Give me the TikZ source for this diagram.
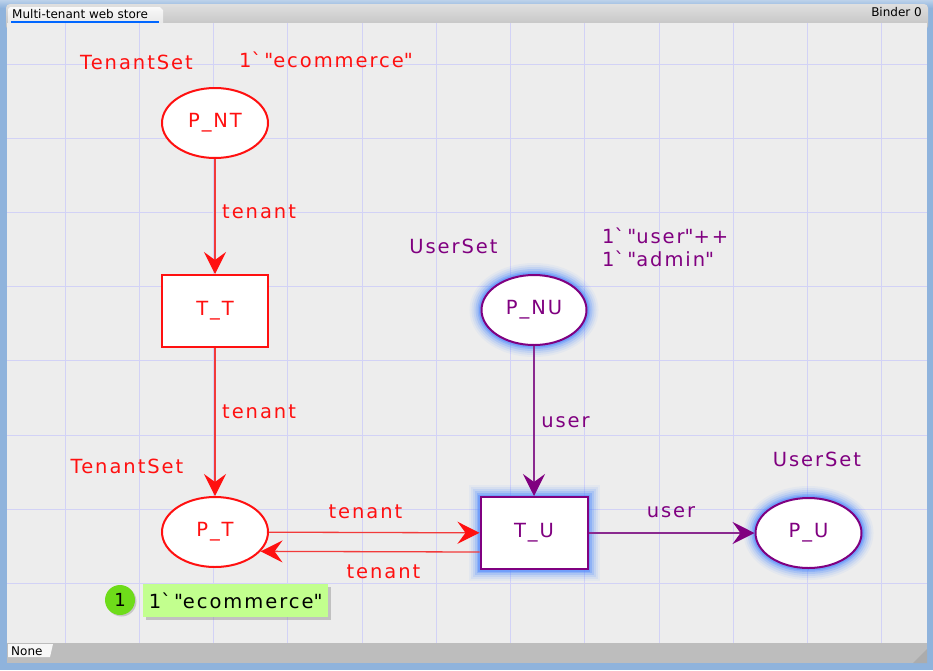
\documentclass[tikz,border=0pt]{standalone}
\usepackage{fontspec}
\setmainfont{DejaVu Sans}
\newfontfamily\cpn[LetterSpace=10]{DejaVu Sans}
\newfontfamily\uifont{DejaVu Sans}
\usetikzlibrary{arrows.meta,shapes.geometric,shadows}
\definecolor{cpnred}{HTML}{FF1010}
\definecolor{arcred}{HTML}{F23A3A}
\definecolor{cpnpurple}{HTML}{800080}
\definecolor{arcpurple}{HTML}{8A2A8F}
\definecolor{glowblue}{HTML}{4F8AFF}
\definecolor{canvasbg}{HTML}{EDEDED}
\definecolor{gridc}{HTML}{D2D2F6}
\definecolor{framebl}{HTML}{8FB3DC}
\definecolor{tokgreen}{HTML}{6EDC1A}
\definecolor{toklabel}{HTML}{C2FF8E}
\definecolor{tabline}{HTML}{0066FF}
\newcommand{\bq}{\textasciigrave\hspace{3pt}}
\newcommand{\dq}{\textquotedbl}
\tikzset{
  lbl/.style={font=\cpn\fontsize{19.5}{22}\selectfont, inner sep=0pt},
  redlbl/.style={lbl, text=cpnred},
  purplbl/.style={lbl, text=cpnpurple},
  place/.style={ellipse, draw, fill=white, line width=2pt, minimum width=106pt, minimum height=70pt, inner sep=0pt, font=\cpn\fontsize{19.5}{22}\selectfont},
  trans/.style={rectangle, draw, fill=white, line width=2pt, minimum width=106pt, minimum height=72pt, inner sep=0pt, font=\cpn\fontsize{19.5}{22}\selectfont},
  redobj/.style={draw=cpnred, text=cpnred},
  purpobj/.style={draw=cpnpurple, text=cpnpurple},
  glow/.style={
    preaction={draw=glowblue, line width=24pt, opacity=0.06},
    preaction={draw=glowblue, line width=20pt, opacity=0.09},
    preaction={draw=glowblue, line width=16pt, opacity=0.13},
    preaction={draw=glowblue, line width=12pt, opacity=0.2},
    preaction={draw=glowblue, line width=8pt, opacity=0.3},
    preaction={draw=glowblue, line width=5pt, opacity=0.45}},
  cpntip/.tip={Stealth[length=22pt, width=22pt, inset=8pt]},
  redarc/.style={draw=arcred, line width=1.3pt, -{cpntip[fill=cpnred,color=cpnred]}},
  purparc/.style={draw=arcpurple, line width=1.3pt, -{cpntip[fill=cpnpurple,color=cpnpurple]}},
  uitext/.style={font=\uifont\fontsize{12}{14}\selectfont, inner sep=0pt, text=black}
}
\begin{document}
\begin{tikzpicture}[x=1pt,y=-1pt]
\useasboundingbox (0,0) rectangle (933,670);
% frame
\fill[framebl] (0,0) rectangle (933,670);
\shade[top color=framebl!60!white, bottom color=framebl] (0,0) rectangle (933,8);
\shade[top color=gray!25, bottom color=gray!50, rounded corners=4pt] (6,4) rectangle (928,30);
\fill[canvasbg] (7,23) rectangle (927,643);
% tab
\shade[top color=white!95!gray, bottom color=gray!18] (8,23) -- (8,9) -- (10,7) -- (160,7) -- (163,10) -- (163,23) -- cycle;
\node[uitext, anchor=west] (tabtxt) at (12,14.5) {Multi-tenant web store};
\draw[line width=2pt, draw=tabline] (11,21.5) -- (159,21.5);
\node[uitext, anchor=east] (binder) at (922,12) {Binder 0};
% bottom bar
\fill[gray!52] (7,643) rectangle (927,663);
\fill[gray!65] (913,663) -- (927,649) -- (927,663) -- cycle;
\fill[white!94!gray] (8,644) -- (53,644) -- (50,657) -- (8,657) -- cycle;
\node[uitext, anchor=west] (none) at (11,651) {None};
% grid
\foreach \k in {0,...,11} \draw[gridc, line width=1pt] ({65+74.25*\k},23) -- ({65+74.25*\k},643);
\foreach \k in {0,...,7} \draw[gridc, line width=1pt] (7,{64+74.2*\k}) -- (927,{64+74.2*\k});
% nodes
\node[place, redobj] (PNT) at (215,123) {P\_NT};
\node[trans, redobj] (TT) at (215,311) {T\_T};
\node[place, redobj] (PT) at (215,532) {P\_T};
\node[trans, purpobj, glow, minimum width=107pt] (TU) at (534,533) {T\_U};
\node[place, purpobj, glow, minimum width=105pt] (PNU) at (534,310) {P\_NU};
\node[place, purpobj, glow] (PU) at (808.5,533) {P\_U};
% arcs
\draw[redarc] (PNT) -- (TT);
\draw[redarc] (TT) -- (PT);
\draw[redarc] (PT) -- (TU);
\draw[redarc] ([yshift=-19pt]TU.west) -- (PT.-23);
\draw[purparc] (PNU) -- (TU);
\draw[purparc] (TU) -- (PU);
% labels
\node[redlbl] (ts1) at (136.5,62) {TenantSet};
\node[redlbl] (init1) at (326,60) {1\bq\dq ecommerce\dq};
\node[redlbl, anchor=west] (a1) at (222,212) {tenant};
\node[redlbl, anchor=west] (a2) at (222,412) {tenant};
\node[redlbl] (ts2) at (127,466) {TenantSet};
\node[redlbl] (a3) at (365.5,512) {tenant};
\node[redlbl] (a4) at (383.5,572) {tenant};
\node[purplbl] (us1) at (453.5,246) {UserSet};
\node[purplbl, anchor=west, align=left] (init2) at (602,247.5) {1\bq\dq user\dq ++\\[1pt]1\bq\dq admin\dq};
\node[purplbl] (a5) at (565.5,422) {user};
\node[purplbl] (us2) at (817,459) {UserSet};
\node[purplbl] (a6) at (671,512) {user};
% token
\node[circle, fill=tokgreen, minimum size=30pt, inner sep=0pt, drop shadow={opacity=0.35, shadow xshift=1.5pt, shadow yshift=-1.5pt}, font=\cpn\fontsize{18}{20}\selectfont] (tok) at (120,600) {1};
\node[rectangle, fill=toklabel, minimum width=185pt, minimum height=33pt, inner sep=0pt, drop shadow={opacity=0.4, shadow xshift=3pt, shadow yshift=-3pt}, anchor=west, font=\cpn\fontsize{19.5}{22}\selectfont] (toklbl) at (143,600.5) {1\bq\dq ecommerce\dq};
\end{tikzpicture}
\end{document}
